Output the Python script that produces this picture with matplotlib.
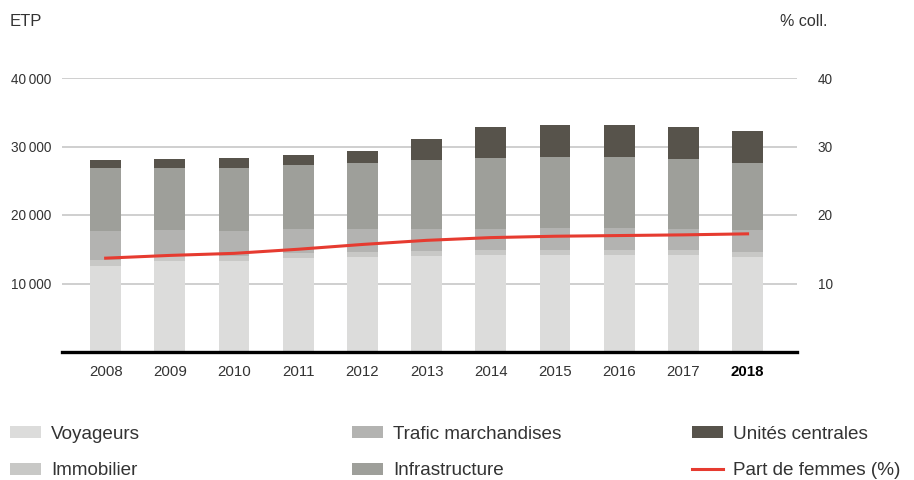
import matplotlib.pyplot as plt
import numpy as np

plt.rcParams['font.family'] = ['Liberation Sans', 'DejaVu Sans']

# ETP by division, 2008-2018
years = ["2008", "2009", "2010", "2011", "2012", "2013", "2014", "2015", "2016", "2017", "2018"]
voyageurs = [12560, 13250, 13250, 13690, 13840, 13980, 14130, 14130, 14130, 14130, 13840]
immobilier = [840, 730, 730, 730, 730, 730, 730, 730, 730, 730, 730]
trafic = [4240, 3810, 3660, 3520, 3370, 3230, 3080, 3220, 3220, 3080, 3220]
infrastructure = [9230, 9080, 9230, 9370, 9660, 10100, 10390, 10400, 10400, 10240, 9810]
unites = [1170, 1310, 1460, 1460, 1760, 3070, 4540, 4680, 4680, 4690, 4680]
part_femmes = [13.7, 14.1, 14.4, 15.0, 15.7, 16.3, 16.7, 16.9, 17.0, 17.1, 17.25]

series = [
    ("Voyageurs", voyageurs, "#dcdcdb"),
    ("Immobilier", immobilier, "#c8c8c6"),
    ("Trafic marchandises", trafic, "#b3b3b1"),
    ("Infrastructure", infrastructure, "#9e9f9a"),
    ("Unités centrales", unites, "#57534b"),
]
red = "#e63b30"
text_col = "#333333"

fig = plt.figure(figsize=(9.14, 4.8), dpi=100)
ax = fig.add_axes([62 / 914, 1 - 352 / 480, 735 / 914, 274 / 480])

x = np.arange(len(years))
bottom = np.zeros(len(years))
handles = {}
for name, vals, col in series:
    h = ax.bar(x, vals, width=0.48, bottom=bottom, color=col, zorder=2, label=name)
    handles[name] = h
    bottom += np.array(vals)

ax.set_xlim(-0.68, 10.77)
ax.set_ylim(0, 40000)
ax.set_yticks([10000, 20000, 30000, 40000])
ax.set_yticklabels(["10\u2009000", "20\u2009000", "30\u2009000", "40\u2009000"])
ax.grid(axis="y", color="#cccccc", linewidth=1.3, zorder=0)
ax.set_axisbelow(True)
for s in ["top", "right", "left"]:
    ax.spines[s].set_visible(False)
ax.spines["bottom"].set_linewidth(2.4)
ax.spines["bottom"].set_color("black")
ax.tick_params(axis="y", length=0, pad=8, labelsize=9.8, labelcolor=text_col)
ax.tick_params(axis="x", length=0, pad=9, labelsize=10.8, labelcolor=text_col)
ax.set_xticks(x)
ax.set_xticklabels(years)
ax.get_xticklabels()[-1].set_fontweight("bold")
ax.get_xticklabels()[-1].set_color("black")

ax2 = ax.twinx()
ax2.set_ylim(0, 40)
ax2.set_yticks([10, 20, 30, 40])
ax2.set_yticklabels(["10", "20", "30", "40"])
for s in ["top", "right", "left", "bottom"]:
    ax2.spines[s].set_visible(False)
ax2.tick_params(axis="y", length=0, pad=15, labelsize=9.8, labelcolor=text_col)
line, = ax2.plot(x, part_femmes, color=red, linewidth=2.2, label="Part de femmes (%)", zorder=3)

fig.text(10 / 914, 1 - 22 / 480, "ETP", fontsize=12, color=text_col, va="center", ha="left")
fig.text(827 / 914, 1 - 22 / 480, "% coll.", fontsize=11.5, color=text_col, va="center", ha="right")

# legend: three columns of two entries
cols = [
    (["Voyageurs", "Immobilier"], 10),
    (["Trafic marchandises", "Infrastructure"], 352),
    (["Unités centrales"], 692),
]
for names, xpix in cols:
    hs = [handles[n] for n in names]
    labs = list(names)
    if xpix == 692:
        hs.append(line)
        labs.append("Part de femmes (%)")
    fig.legend(hs, labs, loc="upper left",
               bbox_to_anchor=(xpix / 914, 1 - 426 / 480),
               frameon=False, fontsize=13.6, labelcolor=text_col,
               handlelength=1.65, handleheight=0.6, handletextpad=0.53,
               labelspacing=1.02, borderpad=0, borderaxespad=0)

fig.savefig("out.png", dpi=100)
